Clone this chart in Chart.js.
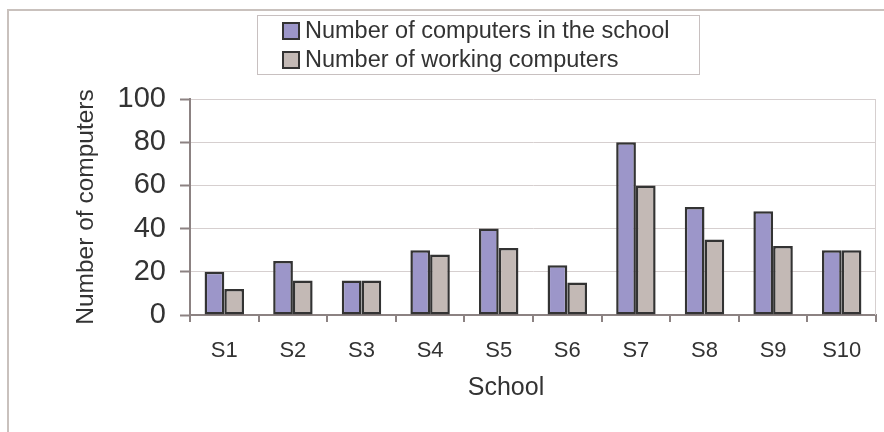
<!DOCTYPE html>
<html>
<head>
<meta charset="utf-8">
<title>Computers in schools</title>
<script src="https://cdn.jsdelivr.net/npm/chart.js@4.4.1/dist/chart.umd.min.js"></script>
<style>
    html, body { margin: 0; padding: 0; background: #ffffff; }
    #wrap { width: 884px; height: 432px; }
</style>
</head>
<body>
<div id="wrap"><canvas id="schoolChart" width="884" height="432"></canvas></div>
<script>
;
(function(window, document) {
    'use strict';

    // chart data
    const schools = ['S1', 'S2', 'S3', 'S4', 'S5', 'S6', 'S7', 'S8', 'S9', 'S10'];
    const totalComputers = [20, 25, 16, 30, 40, 23, 80, 50, 48, 30];
    const workingComputers = [12, 16, 16, 28, 31, 15, 60, 35, 32, 30];
    const seriesNames = ['Number of computers in the school', 'Number of working computers'];
    const xTitle = 'School';
    const yTitle = 'Number of computers';
    const yMin = 0;
    const yMax = 100;
    const yStep = 20;

    const fontFamily = '"Liberation Sans", Arial, Helvetica, sans-serif';
    const textColor = '#333333';
    const axisColor = '#8c8282';
    const gridColor = '#d6cfcf';
    const frameColor = '#c9c1bd';

    // outer frame, right plot border, x title and the two-row legend
    let decor = {
        id: 'decor',
        beforeDraw: function(chart) {
            let ctx = chart.ctx;
            ctx.save();
            ctx.strokeStyle = frameColor;
            ctx.lineWidth = 2;
            ctx.beginPath();
            ctx.moveTo(7, 10);
            ctx.lineTo(chart.width, 10);
            ctx.moveTo(8, 9);
            ctx.lineTo(8, chart.height);
            ctx.stroke();
            ctx.restore();
        },
        beforeDatasetsDraw: function(chart) {
            let ctx = chart.ctx;
            let area = chart.chartArea;
            ctx.save();
            ctx.strokeStyle = gridColor;
            ctx.lineWidth = 1;
            ctx.beginPath();
            ctx.moveTo(Math.round(area.right) - 0.5, area.top);
            ctx.lineTo(Math.round(area.right) - 0.5, area.bottom);
            ctx.stroke();
            ctx.restore();
        },
        afterDraw: function(chart) {
            let ctx = chart.ctx;
            ctx.save();

            // x axis title, centred as in the original (not on the plot)
            ctx.font = '25px ' + fontFamily;
            ctx.fillStyle = textColor;
            ctx.textAlign = 'center';
            ctx.textBaseline = 'middle';
            ctx.fillText(xTitle, 506, 388);

            // legend box
            ctx.strokeStyle = '#c8c0c0';
            ctx.lineWidth = 1;
            ctx.strokeRect(257.5, 15.5, 442, 59);
            ctx.font = '23.5px ' + fontFamily;
            ctx.textAlign = 'left';
            chart.data.datasets.forEach(function(ds, i) {
                let cy = 31 + i * 29;
                ctx.fillStyle = ds.backgroundColor;
                ctx.fillRect(283, cy - 8, 16, 16);
                ctx.strokeStyle = '#333333';
                ctx.lineWidth = 2;
                ctx.strokeRect(283, cy - 8, 16, 16);
                ctx.fillStyle = textColor;
                ctx.fillText(ds.label, 305, cy + 1);
            });
            ctx.restore();
        }
    };

    let canvas = document.getElementById('schoolChart');

    new Chart(canvas, {
        type: 'bar',
        data: {
            labels: schools,
            datasets: [
                {
                    label: seriesNames[0],
                    data: totalComputers,
                    backgroundColor: '#9c96c9',
                    borderColor: '#333333',
                    borderWidth: 2.5,
                    borderSkipped: false
                },
                {
                    label: seriesNames[1],
                    data: workingComputers,
                    backgroundColor: '#c3b9b5',
                    borderColor: '#333333',
                    borderWidth: 2.5,
                    borderSkipped: false
                }
            ]
        },
        options: {
            responsive: false,
            animation: false,
            categoryPercentage: 0.575,
            barPercentage: 1,
            layout: {
                padding: { top: 99, right: 8, bottom: 0, left: 0 }
            },
            plugins: {
                legend: { display: false },
                tooltip: { enabled: false }
            },
            scales: {
                x: {
                    afterFit: function(scale) { scale.height = 117; },
                    grid: {
                        drawOnChartArea: false,
                        drawTicks: true,
                        tickLength: 7,
                        color: axisColor,
                        lineWidth: 2
                    },
                    border: { color: axisColor, width: 2 },
                    ticks: {
                        color: textColor,
                        padding: 16,
                        font: { family: fontFamily, size: 22 }
                    },
                    title: { display: false }
                },
                y: {
                    min: yMin,
                    max: yMax,
                    afterFit: function(scale) { scale.width = 190; },
                    grid: {
                        color: gridColor,
                        lineWidth: 1,
                        tickLength: 10,
                        tickColor: axisColor,
                        tickWidth: 2
                    },
                    border: { color: axisColor, width: 2 },
                    ticks: {
                        stepSize: yStep,
                        color: textColor,
                        padding: 14,
                        font: { family: fontFamily, size: 29 }
                    },
                    title: {
                        display: true,
                        text: yTitle,
                        color: textColor,
                        padding: { top: 72, bottom: 0 },
                        font: { family: fontFamily, size: 24.5 }
                    }
                }
            }
        },
        plugins: [decor]
    });

})(window, document);
</script>
</body>
</html>
